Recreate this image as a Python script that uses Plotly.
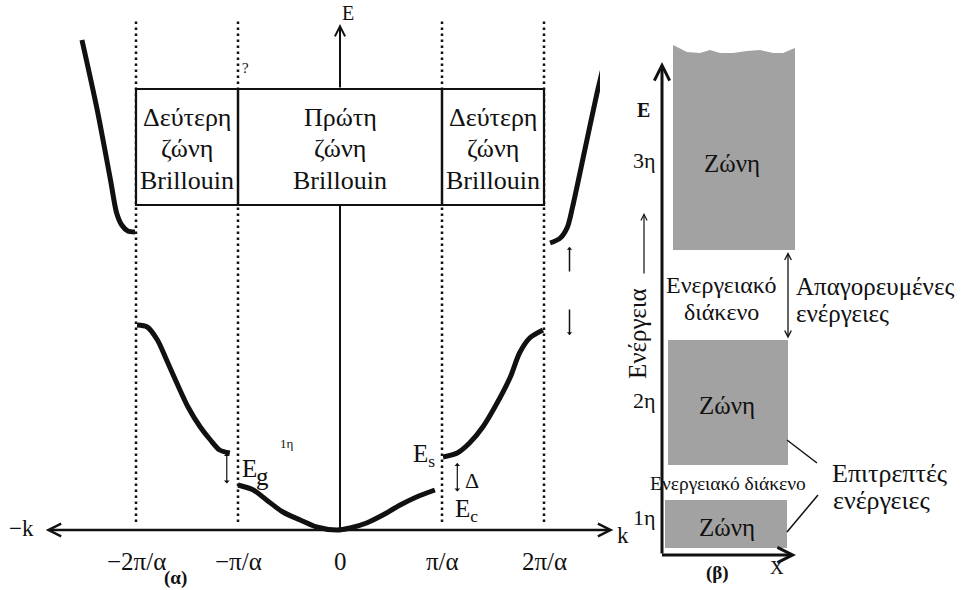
import plotly.graph_objects as go

# ---------------- Panel (α): E(k), k in units of π/α ----------------
zone_edges = [-2, -1, 1, 2]
tick_vals = [-2, -1, 0, 1, 2]
tick_text = ["−2π/α", "−π/α", "0", "π/α", "2π/α"]

band1_k = [-1.0, -0.85, -0.72, -0.56, -0.39, -0.23, -0.03, 0.10, 0.26, 0.42, 0.59, 0.75, 0.93]
band1_E = [0.45, 0.40, 0.30, 0.18, 0.10, 0.03, 0.00, 0.02, 0.07, 0.15, 0.25, 0.33, 0.40]

band2L_k = [-1.99, -1.89, -1.79, -1.70, -1.60, -1.49, -1.37, -1.27, -1.18, -1.08]
band2L_E = [2.05, 2.03, 1.90, 1.70, 1.47, 1.23, 1.03, 0.90, 0.80, 0.77]

band2R_k = [1.01, 1.15, 1.27, 1.40, 1.54, 1.67, 1.76, 1.86, 1.99]
band2R_E = [0.73, 0.77, 0.87, 1.03, 1.27, 1.53, 1.77, 1.92, 2.00]

band3L_k = [-2.53, -2.38, -2.25, -2.19, -2.14, -2.08, -2.01]
band3L_E = [4.90, 4.20, 3.50, 3.17, 3.05, 2.99, 2.98]

band3R_k = [2.06, 2.16, 2.23, 2.28, 2.40, 2.52, 2.61]
band3R_E = [2.87, 2.92, 3.03, 3.23, 3.80, 4.37, 4.75]

zone_names = [
    ["Δεύτερη", "ζώνη", "Brillouin"],
    ["Πρώτη", "ζώνη", "Brillouin"],
    ["Δεύτερη", "ζώνη", "Brillouin"],
]
zone_centers = [-1.5, 0.0, 1.5]

# ---------------- Panel (β): allowed bands ----------------
bands_x = [(0.06, 1.26), (0.03, 1.25)]          # band 2, band 1
bands_E = [(0.90, 2.15), (0.07, 0.55)]
band3_x = [0.11, 1.33]
band3_bottom = 3.05
band3_top_x = [0.11, 0.25, 0.38, 0.48, 0.58, 0.71, 0.85, 0.98, 1.11, 1.21, 1.33]
band3_top_E = [5.10, 5.03, 5.02, 5.05, 5.02, 5.02, 5.04, 5.05, 5.02, 5.02, 5.07]
level_labels = ["3η", "2η", "1η"]
level_E = [3.95, 1.55, 0.38]

FONT = "Liberation Serif"
BLACK = "#111111"
GREY = "#a2a2a2"

fig = go.Figure()

def curve(k, E):
    fig.add_trace(go.Scatter(x=k, y=E, mode="lines",
                             line=dict(color=BLACK, width=5, shape="spline", smoothing=0.8),
                             hoverinfo="skip", showlegend=False, xaxis="x", yaxis="y"))

for k, E in [(band1_k, band1_E), (band2L_k, band2L_E), (band2R_k, band2R_E),
             (band3L_k, band3L_E), (band3R_k, band3R_E)]:
    curve(k, E)

# band 3 of panel β with wavy top
px3 = [band3_x[0]] + band3_top_x + [band3_x[1], band3_x[0]]
py3 = [band3_bottom] + band3_top_E + [band3_bottom, band3_bottom]
fig.add_trace(go.Scatter(x=px3, y=py3, fill="toself", fillcolor=GREY, mode="lines",
                         line=dict(width=0, color=GREY), hoverinfo="skip",
                         showlegend=False, xaxis="x2", yaxis="y2"))

shapes = []
for z in zone_edges:
    shapes.append(dict(type="line", xref="x", yref="y", x0=z, x1=z, y0=0.08, y1=5.10,
                       line=dict(color=BLACK, width=2.5, dash="2.5px,3.5px")))
box_top, box_bot = 4.41, 3.25
shapes.append(dict(type="rect", xref="x", yref="y", x0=-2, x1=2, y0=box_bot, y1=box_top,
                   fillcolor="white", line=dict(color=BLACK, width=2.2), layer="above"))
for z in [-1, 1]:
    shapes.append(dict(type="line", xref="x", yref="y", x0=z, x1=z, y0=box_bot, y1=box_top,
                       line=dict(color=BLACK, width=2.5)))
shapes.append(dict(type="line", xref="x", yref="y", x0=0, x1=0, y0=0, y1=box_bot,
                   line=dict(color=BLACK, width=2)))
for (x0, x1), (e0, e1) in zip(bands_x, bands_E):
    shapes.append(dict(type="rect", xref="x2", yref="y2", x0=x0, x1=x1, y0=e0, y1=e1,
                       fillcolor=GREY, line=dict(width=0), layer="below"))
for (x0, y0, x1, y1) in [(1.25, 1.15, 1.55, 0.92), (1.25, 0.23, 1.56, 0.60)]:
    shapes.append(dict(type="line", xref="x2", yref="y2", x0=x0, x1=x1, y0=y0, y1=y1,
                       line=dict(color=BLACK, width=1.5)))

ann = []

def arrow(x, y, ax, ay, xr="x", yr="y", w=2.5, head=5, size=1.0, both=False):
    ann.append(dict(x=x, y=y, ax=ax, ay=ay, xref=xr, yref=yr, axref=xr, ayref=yr,
                    showarrow=True, arrowhead=head, startarrowhead=head,
                    arrowside="end+start" if both else "end",
                    arrowsize=size, startarrowsize=size, arrowwidth=w,
                    arrowcolor=BLACK, text=""))

def text(x, y, s, size=20, xr="x", yr="y", xa="center", bold=False, angle=0):
    if bold:
        s = "<b>" + s + "</b>"
    ann.append(dict(x=x, y=y, xref=xr, yref=yr, text=s, showarrow=False,
                    xanchor=xa, yanchor="middle", textangle=angle,
                    font=dict(family=FONT, size=size, color=BLACK)))

# axes of panel α
arrow(2.68, 0.0, -2.90, 0.0, both=True)
arrow(0, 5.06, 0, box_top, w=2)
text(0.08, 5.17, "E", 20)
text(-3.12, 0.02, "−k", 23)
text(2.77, -0.05, "k", 23)
for v, t in zip(tick_vals, tick_text):
    text(v, -0.31, t, 25)
text(-1.61, -0.48, "(α)", 19, bold=True)
text(-0.93, 4.62, "?", 15)

for c, lines in zip(zone_centers, zone_names):
    for i, line in enumerate(lines):
        text(c, 4.13 - 0.315 * i, line, 26)

# gap arrows
arrow(-1.11, 0.77, -1.11, 0.45, w=1.2, head=1, size=0.8, both=True)
arrow(1.15, 0.67, 1.15, 0.37, w=1.2, head=1, size=0.8, both=True)
arrow(2.25, 2.83, 2.25, 2.57, w=1.5, head=1, size=0.6)
arrow(2.25, 1.95, 2.25, 2.22, w=1.5, head=1, size=0.6)
text(-0.89, 0.62, "E", 25)
text(-0.76, 0.54, "g", 25)
text(-0.52, 0.87, "1η", 13)
text(0.82, 0.75, "E<sub>s</sub>", 25)
text(1.29, 0.50, "Δ", 22)
text(1.24, 0.20, "E<sub>c</sub>", 25)

# axes of panel β
arrow(0, 4.93, 0, 0, xr="x2", yr="y2", w=3)
arrow(1.34, 0, -0.015, 0, xr="x2", yr="y2", w=3)
text(-0.19, 4.45, "E", 20, xr="x2", yr="y2", bold=True)
for lab, e in zip(level_labels, level_E):
    text(-0.18, e, lab, 22, xr="x2", yr="y2")
text(-0.25, 2.21, "Ενέργεια", 25, xr="x2", yr="y2", angle=-90)
arrow(-0.18, 3.42, -0.18, 2.80, xr="x2", yr="y2", w=1.2, head=5, size=1.0)
for e in [3.92, 1.50, 0.28]:
    text(0.70 if e > 3 else 0.65, e, "Ζώνη", 25, xr="x2", yr="y2")
text(0.59, 2.70, "Ενεργειακό", 24, xr="x2", yr="y2")
text(0.59, 2.43, "διάκενο", 24, xr="x2", yr="y2")
arrow(1.26, 3.03, 1.26, 2.15, xr="x2", yr="y2", w=1.3, head=5, size=1.0, both=True)
text(1.32, 2.69, "Απαγορευμένες", 25, xr="x2", yr="y2", xa="left")
text(1.32, 2.42, "ενέργειες", 25, xr="x2", yr="y2", xa="left")
text(0.66, 0.72, "Ενεργειακό διάκενο", 19.5, xr="x2", yr="y2")
text(2.28, 0.82, "Επιτρεπτές", 26, xr="x2", yr="y2")
text(2.19, 0.55, "ενέργειες", 26, xr="x2", yr="y2")
text(1.15, -0.12, "X", 19, xr="x2", yr="y2")
text(0.55, -0.18, "(β)", 19, xr="x2", yr="y2", bold=True)

ax_common = dict(visible=False, showgrid=False, zeroline=False, fixedrange=True)
fig.update_layout(
    width=962, height=590, margin=dict(l=0, r=0, t=0, b=0),
    paper_bgcolor="white", plot_bgcolor="white", showlegend=False,
    xaxis=dict(domain=[0, 640 / 962], range=[-340 / 102, 300 / 102], **ax_common),
    yaxis=dict(domain=[0, 1], range=[-0.6, 5.3], **ax_common),
    xaxis2=dict(domain=[600 / 962, 1], range=[-0.62, 3.0], anchor="y2", **ax_common),
    yaxis2=dict(domain=[0, 1], range=[-0.35, 5.55], anchor="x2", **ax_common),
    shapes=shapes, annotations=ann,
)
fig.write_html("out.html", config={"displayModeBar": False},
               post_script="document.body.style.margin='0px';")
